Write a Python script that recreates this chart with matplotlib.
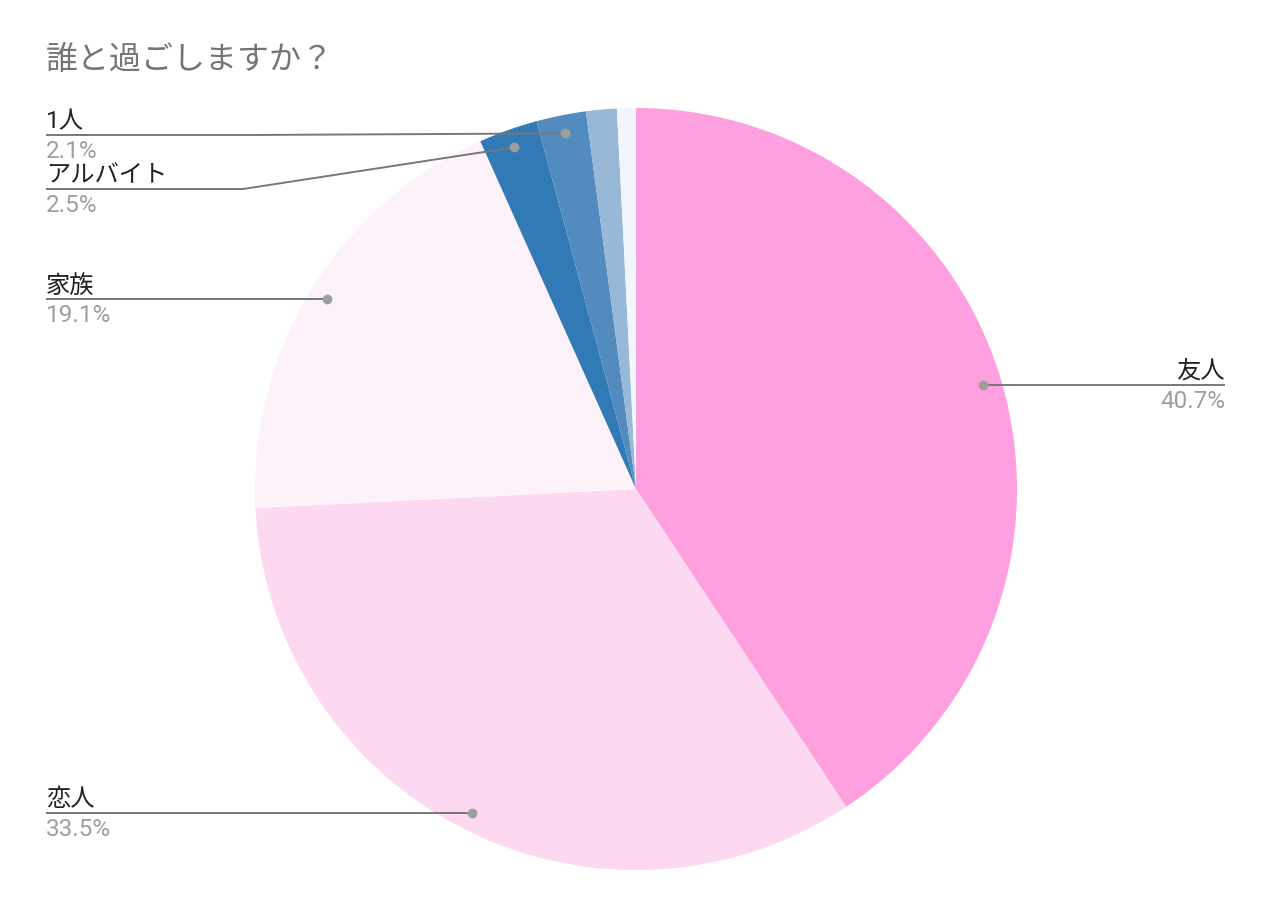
import numpy as np
import matplotlib
matplotlib.use("Agg")
import matplotlib.pyplot as plt

plt.rcParams['font.family'] = ['Roboto', 'Noto Sans CJK JP', 'DejaVu Sans']

# Data
title = '誰と過ごしますか？'
categories = ['友人', '恋人', '家族', 'アルバイト', '1人', 'その他A', 'その他B']
values = [40.7, 33.5, 19.1, 2.5, 2.1, 1.3, 0.8]
colors = ['#fe9fdf', '#fcd9f1', '#fdf2f9', '#317ab6', '#538bbf', '#97b9d7', '#f2f6fa']

W, H = 1272, 916
fig = plt.figure(figsize=(W / 100, H / 100), dpi=100)
ax = fig.add_axes([0, 0, 1, 1])

def py(y):
    # pixel row (from top) -> axis y
    return H - y

cx, cy, r = 636, py(489), 381
ax.pie(values, colors=colors, startangle=90, counterclock=False,
       center=(cx, cy), radius=r, frame=True,
       wedgeprops=dict(linewidth=0))
ax.set_xlim(0, W)
ax.set_ylim(0, H)
ax.axis('off')

# label layout: (side, label line y in px, elbow x or None)
layout = {
    '友人': ('right', None, None),
    '恋人': ('left', None, None),
    '家族': ('left', None, None),
    'アルバイト': ('left', 189, 243),
    '1人': ('left', 135, 250),
}

total = sum(values)
cum = 0
for name, v in zip(categories, values):
    mid = (cum + v / 2) / total * 2 * np.pi
    cum += v
    if name not in layout:
        continue
    dx = cx + 0.952 * r * np.sin(mid)
    dy = cy + 0.952 * r * np.cos(mid)
    side, ly, elbow = layout[name]
    ly = dy if ly is None else py(ly)
    if side == 'right':
        xs = [dx, 1225]
        ys = [dy, ly]
        tx, ha = 1225, 'right'
    else:
        if elbow is None:
            xs = [dx, 46]
            ys = [dy, ly]
        else:
            xs = [dx, elbow, 46]
            ys = [dy, ly, ly]
        tx, ha = 46, 'left'
    ax.plot(xs, ys, color='#777777', lw=1.4, solid_capstyle='butt', zorder=3)
    ax.plot([dx], [dy], 'o', color='#9e9e9e', markersize=6, zorder=4)
    ax.text(tx, ly + 7, name, ha=ha, va='baseline', fontsize=17.5, color='#222222')
    ax.text(tx, ly - 23, f'{v:.1f}%', ha=ha, va='baseline', fontsize=17.5, color='#9e9e9e')

ax.text(46, py(60), title, ha='left', va='center', fontsize=23, color='#757575')

fig.savefig('out.png', dpi=100)
